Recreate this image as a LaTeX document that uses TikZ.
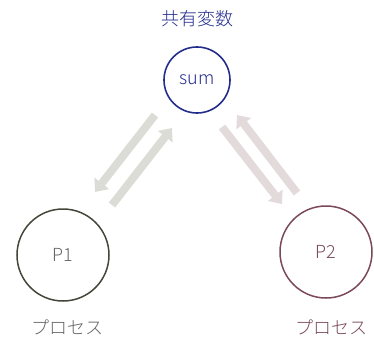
\documentclass[tikz,border=0pt]{standalone}
\usepackage{fontspec}
\setmainfont{Noto Sans CJK JP}[UprightFont={* Light}]
\usetikzlibrary{arrows.meta,positioning}

\definecolor{sumblue}{HTML}{232C8C}
\definecolor{ponecol}{HTML}{45463A}
\definecolor{ptwocol}{HTML}{7A4A58}
\definecolor{arrgray}{HTML}{DCDCD7}
\definecolor{arrpink}{HTML}{E3DADC}

\begin{document}
\begin{tikzpicture}[
  x=1pt, y=1pt,
  every node/.style={font=\fontsize{18}{21}\selectfont},
  proc/.style={circle, line width=1.5pt, minimum size=92pt, inner sep=0pt},
  bigarrow/.style={line width=8pt, -{Triangle[width=18pt,length=11pt]}}
]
\useasboundingbox (0,0) rectangle (374,338);

% Nodes
\node (sum) [circle, draw=sumblue, line width=1.6pt, minimum size=66pt,
  inner sep=0pt, text=sumblue] at (197,258) {sum};
\node (shared) [text=sumblue] at (197,319) {共有変数};

\node (P1) [proc, draw=ponecol, text=black!60] at (63,83) {P1};
\node (P1lab) [text=black!60] at (67,11) {プロセス};

\node (P2) [proc, draw=ptwocol, text=ptwocol] at (326,86) {P2};
\node (P2lab) [text=ptwocol] at (331,11) {プロセス};

% Arrow ends
\coordinate (a1s) at (155,223);
\coordinate (a1e) at (95,146);
\coordinate (a2s) at (112,133);
\coordinate (a2e) at (172,210);
\coordinate (b1s) at (222,211);
\coordinate (b1e) at (282,134);
\coordinate (b2s) at (297,145);
\coordinate (b2e) at (237,223);

% Arrows
\draw[bigarrow, arrgray] (a1s) -- (a1e);
\draw[bigarrow, arrgray] (a2s) -- (a2e);
\draw[bigarrow, arrpink] (b1s) -- (b1e);
\draw[bigarrow, arrpink] (b2s) -- (b2e);

\end{tikzpicture}
\end{document}
